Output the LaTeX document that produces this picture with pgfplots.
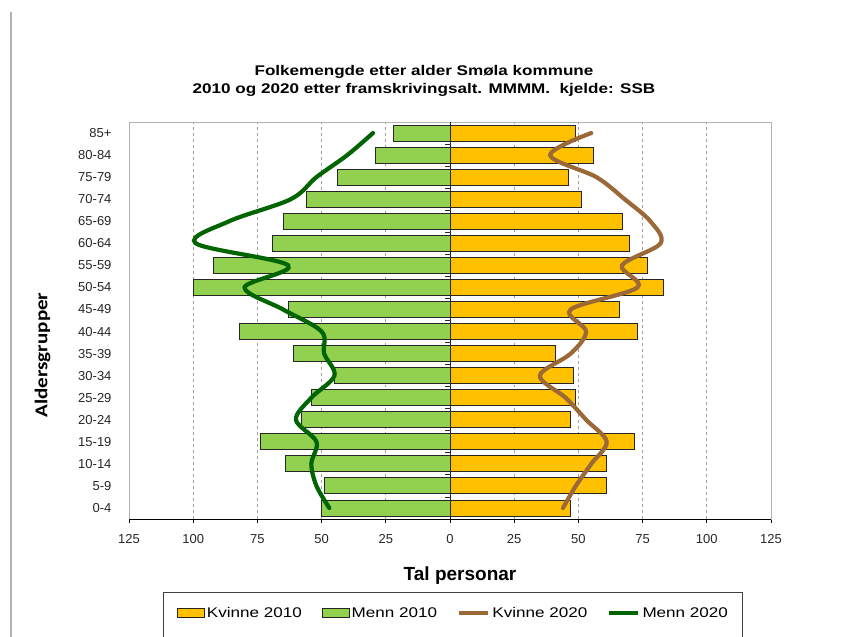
\documentclass[border=0pt]{standalone}
\usepackage{pgfplots}
\pgfplotsset{compat=1.18}
\usepackage{fontspec}
\setmainfont{Liberation Sans}
\newfontfamily\widefont[FakeStretch=1.22]{Liberation Sans}
\newfontfamily\carlitowide[FakeStretch=1.17]{Carlito}
\definecolor{kv10}{HTML}{FFC000}
\definecolor{me10}{HTML}{92D050}
\definecolor{kv20}{RGB}{155,105,55}
\definecolor{me20}{RGB}{0,100,0}
\pgfplotsset{
  rectlegend/.style={legend image code/.code={\draw[##1] (0bp,-4.5bp) rectangle (27bp,4.5bp);}},
  linelegend/.style={legend image code/.code={\draw[##1, line cap=butt] (0bp,0bp) -- (29bp,0bp);}},
}
\begin{document}
\begin{tikzpicture}
\useasboundingbox (0,0) rectangle (854bp,-637bp);
\draw[gray!60, line width=1.2bp] (11bp,-12bp) -- (11bp,-637bp);
\draw[black!75, line width=0.8bp] (163bp,-650bp) -- (163bp,-592bp) -- (742bp,-592bp) -- (742bp,-650bp);
\begin{axis}[
  at={(129bp,-519bp)}, anchor=south west,
  scale only axis, width=642bp, height=397bp,
  xmin=-125, xmax=125, ymin=-0.5, ymax=17.5,
  xtick={-125,-100,-75,-50,-25,0,25,50,75,100,125},
  xticklabels={125,100,75,50,25,0,25,50,75,100,125},
  ytick={0,...,17},
  yticklabels={0-4,5-9,10-14,15-19,20-24,25-29,30-34,35-39,40-44,45-49,50-54,55-59,60-64,65-69,70-74,75-79,80-84,85+},
  xtick pos=left, tick align=outside, major tick length=4bp,
  x tick style={black, line width=0.8bp},
  y tick style={draw=none},
  ticklabel style={font=\fontsize{13bp}{15bp}\selectfont, text=black!85},
  xticklabel style={yshift=-8bp},
  yticklabel style={xshift=-10bp},
  xmajorgrids, grid style={dashed, gray!75, line width=0.8bp},
  axis line style={gray!60, line width=0.8bp},
  title={Folkemengde etter alder Smøla kommune\\2010 og 2020 etter framskrivingsalt. MMMM.\ \ kjelde: SSB},
  title style={align=center, font=\widefont\bfseries\fontsize{14bp}{18.5bp}\selectfont, at={(axis description cs:0.4595,1.0882)}, anchor=center, yshift=0pt},
  xlabel={Tal personar},
  xlabel style={font=\bfseries\fontsize{19bp}{21bp}\selectfont, at={(axis description cs:0.5156,-0.1537)}, anchor=base},
  ylabel={Aldersgrupper},
  ylabel style={font=\carlitowide\bfseries\fontsize{18bp}{20bp}\selectfont, at={(axis description cs:-0.1345,0.413)}, anchor=center},
  legend columns=4,
  legend style={at={(axis description cs:0.5054,-0.2368)}, anchor=center, draw=none, fill=none,
    font=\widefont\fontsize{14bp}{16bp}\selectfont, inner xsep=0bp, inner ysep=0bp,
    /tikz/every odd column/.append style={column sep=0bp},
    /tikz/every even column/.append style={column sep=18bp}},
  legend cell align=left,
]
\addplot[xbar, bar shift=0pt, bar width=16bp, fill=kv10, draw=black!85, line width=0.9bp, rectlegend]
  coordinates {(47,0) (61,1) (61,2) (72,3) (47,4) (49,5) (48,6) (41,7) (73,8) (66,9) (83,10) (77,11) (70,12) (67,13) (51,14) (46,15) (56,16) (49,17)};
\addlegendentry{Kvinne 2010}
\addplot[xbar, bar shift=0pt, bar width=16bp, fill=me10, draw=black!85, line width=0.9bp, rectlegend]
  coordinates {(-50,0) (-49,1) (-64,2) (-74,3) (-58,4) (-54,5) (-45,6) (-61,7) (-82,8) (-63,9) (-100,10) (-92,11) (-69,12) (-65,13) (-56,14) (-44,15) (-29,16) (-22,17)};
\addlegendentry{Menn 2010}
\addplot[smooth, tension=0.55, kv20, line width=4.2bp, line cap=round, no marks, linelegend]
  coordinates {(44,0) (49,1) (55,2) (61,3) (53,4) (45,5) (35,6) (47,7) (53,8) (47,9) (73,10) (67,11) (82,12) (78,13) (68,14) (57,15) (39,16) (55,17)};
\addlegendentry{Kvinne 2020}
\addplot[smooth, tension=0.55, me20, line width=4.2bp, line cap=round, no marks, linelegend]
  coordinates {(-47,0) (-52,1) (-54,2) (-52,3) (-60,4) (-54,5) (-45,6) (-49,7) (-50,8) (-65,9) (-80,10) (-63,11) (-99,12) (-86,13) (-62,14) (-52,15) (-40,16) (-30,17)};
\addlegendentry{Menn 2020}
\draw[black!85, line width=1bp] (axis cs:0,-0.5) -- (axis cs:0,17.5);
\pgfplotsinvokeforeach{0,...,16}{\draw[black!85, line width=0.8bp] (axis cs:0,#1.5) -- ++(-5bp,0bp);}
\draw[black, line width=0.8bp] (rel axis cs:0,0) -- (rel axis cs:1,0);
\end{axis}
\end{tikzpicture}
\end{document}
